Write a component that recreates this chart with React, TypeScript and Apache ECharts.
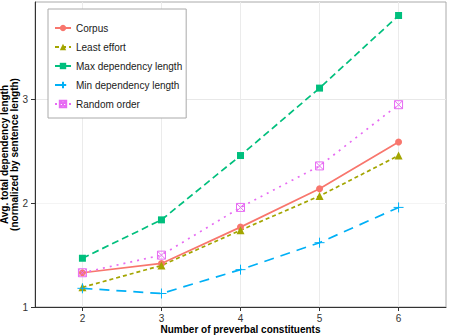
import React, { useEffect, useRef } from "react";
import * as echarts from "echarts";

const constituents = [2, 3, 4, 5, 6];
const corpus = [1.33, 1.42, 1.77, 2.14, 2.59];
const leastEffort = [1.19, 1.4, 1.74, 2.07, 2.46];
const maxDependency = [1.47, 1.84, 2.46, 3.11, 3.81];
const minDependency = [1.18, 1.13, 1.36, 1.62, 1.96];
const randomOrder = [1.33, 1.5, 1.96, 2.36, 2.95];
const yTickValues = [1, 2, 3];
const xTickValues = [2, 3, 4, 5, 6];

const FONT = "'Liberation Sans', Arial, Helvetica, sans-serif";

const pair = (ys: number[]) => constituents.map((x, i) => [x, ys[i]]);

export default function App() {
  const ref = useRef<HTMLDivElement>(null);
  useEffect(() => {
    if (!ref.current) return;
    const chart = echarts.init(ref.current, undefined, { renderer: "svg" });
    const plusPath = "path://M5,0L5,10M0,5L10,5";
    const boxXPath = "path://M0,0L10,0L10,10L0,10Z M0,0L10,10 M10,0L0,10";
    chart.setOption({
      animation: false,
      backgroundColor: "#fff",
      textStyle: { fontFamily: FONT },
      grid: {
        left: 35,
        right: 4,
        top: 2,
        bottom: 28,
        containLabel: false,
        outerBoundsMode: "none",
        show: true,
        borderColor: "#aaaaaa",
        borderWidth: 1,
        backgroundColor: "#fff",
      },
      legend: {
        orient: "vertical",
        left: 48,
        top: 9,
        backgroundColor: "#fff",
        borderColor: "#aaaaaa",
        borderWidth: 1,
        borderRadius: 0,
        padding: [14, 4, 9, 6],
        itemWidth: 16,
        itemHeight: 8,
        itemGap: 9,
        textStyle: { fontSize: 10, color: "#1a1a1a", fontFamily: FONT },
        data: [
          "Corpus",
          "Least effort",
          "Max dependency length",
          "Min dependency length",
          "Random order",
        ],
      },
      xAxis: {
        type: "value",
        min: 1.4,
        max: 6.6,
        minInterval: 1,
        maxInterval: 1,
        name: "Number of preverbal constituents",
        nameLocation: "middle",
        nameGap: 17,
        nameMoveOverlap: false,
        nameTextStyle: { fontWeight: "bold", fontSize: 10, color: "#000", fontFamily: FONT },
        axisLine: { show: true, onZero: false, lineStyle: { color: "#333", width: 1 } },
        axisTick: { show: true, customValues: xTickValues, length: 4, lineStyle: { color: "#333" } },
        axisLabel: {
          customValues: xTickValues,
          fontSize: 10,
          color: "#333",
          margin: 6,
          fontFamily: FONT,
        },
        splitLine: { show: true, lineStyle: { color: "#ebebeb", width: 1 } },
      },
      yAxis: {
        type: "value",
        min: 1,
        max: 3.94,
        minInterval: 0.5,
        maxInterval: 0.5,
        name: "Avg. total dependency length\n(normalized by sentence length)",
        nameLocation: "middle",
        nameGap: 16,
        nameMoveOverlap: false,
        nameTextStyle: {
          fontWeight: "bold",
          fontSize: 10,
          lineHeight: 10,
          color: "#000",
          fontFamily: FONT,
        },
        axisLine: { show: true, onZero: false, lineStyle: { color: "#333", width: 1 } },
        axisTick: { show: true, customValues: yTickValues, length: 4, lineStyle: { color: "#333" } },
        axisLabel: {
          customValues: yTickValues,
          fontSize: 10,
          color: "#333",
          margin: 7,
          fontFamily: FONT,
        },
        splitLine: { show: true, lineStyle: { color: ["#e8e8e8", "#f4f4f4"], width: 1 } },
      },
      series: [
        {
          name: "Corpus",
          type: "line",
          data: pair(corpus),
          symbol: "circle",
          symbolSize: 7,
          itemStyle: { color: "#F8766D" },
          lineStyle: { color: "#F8766D", width: 1.7, type: "solid" },
        },
        {
          name: "Least effort",
          type: "line",
          data: pair(leastEffort),
          symbol: "triangle",
          symbolSize: 8,
          itemStyle: { color: "#A3A500" },
          lineStyle: { color: "#A3A500", width: 1.7, type: [4, 3] },
        },
        {
          name: "Max dependency length",
          type: "line",
          data: pair(maxDependency),
          symbol: "rect",
          symbolSize: 7,
          itemStyle: { color: "#00BF7D" },
          lineStyle: { color: "#00BF7D", width: 1.7, type: [7, 4] },
        },
        {
          name: "Min dependency length",
          type: "line",
          data: pair(minDependency),
          symbol: plusPath,
          symbolSize: 10,
          itemStyle: { color: "rgba(0,0,0,0)", borderColor: "#00B0F6", borderWidth: 1 },
          lineStyle: { color: "#00B0F6", width: 1.7, type: [10, 7] },
        },
        {
          name: "Random order",
          type: "line",
          data: pair(randomOrder),
          symbol: boxXPath,
          symbolSize: 8,
          itemStyle: { color: "rgba(0,0,0,0)", borderColor: "#E76BF3", borderWidth: 1 },
          lineStyle: { color: "#E76BF3", width: 1.7, type: [2, 5] },
        },
      ],
    });
    return () => chart.dispose();
  }, []);
  return (
    <div
      ref={ref}
      style={{ position: "fixed", left: 0, top: 0, width: 450, height: 335, background: "#fff" }}
    />
  );
}
